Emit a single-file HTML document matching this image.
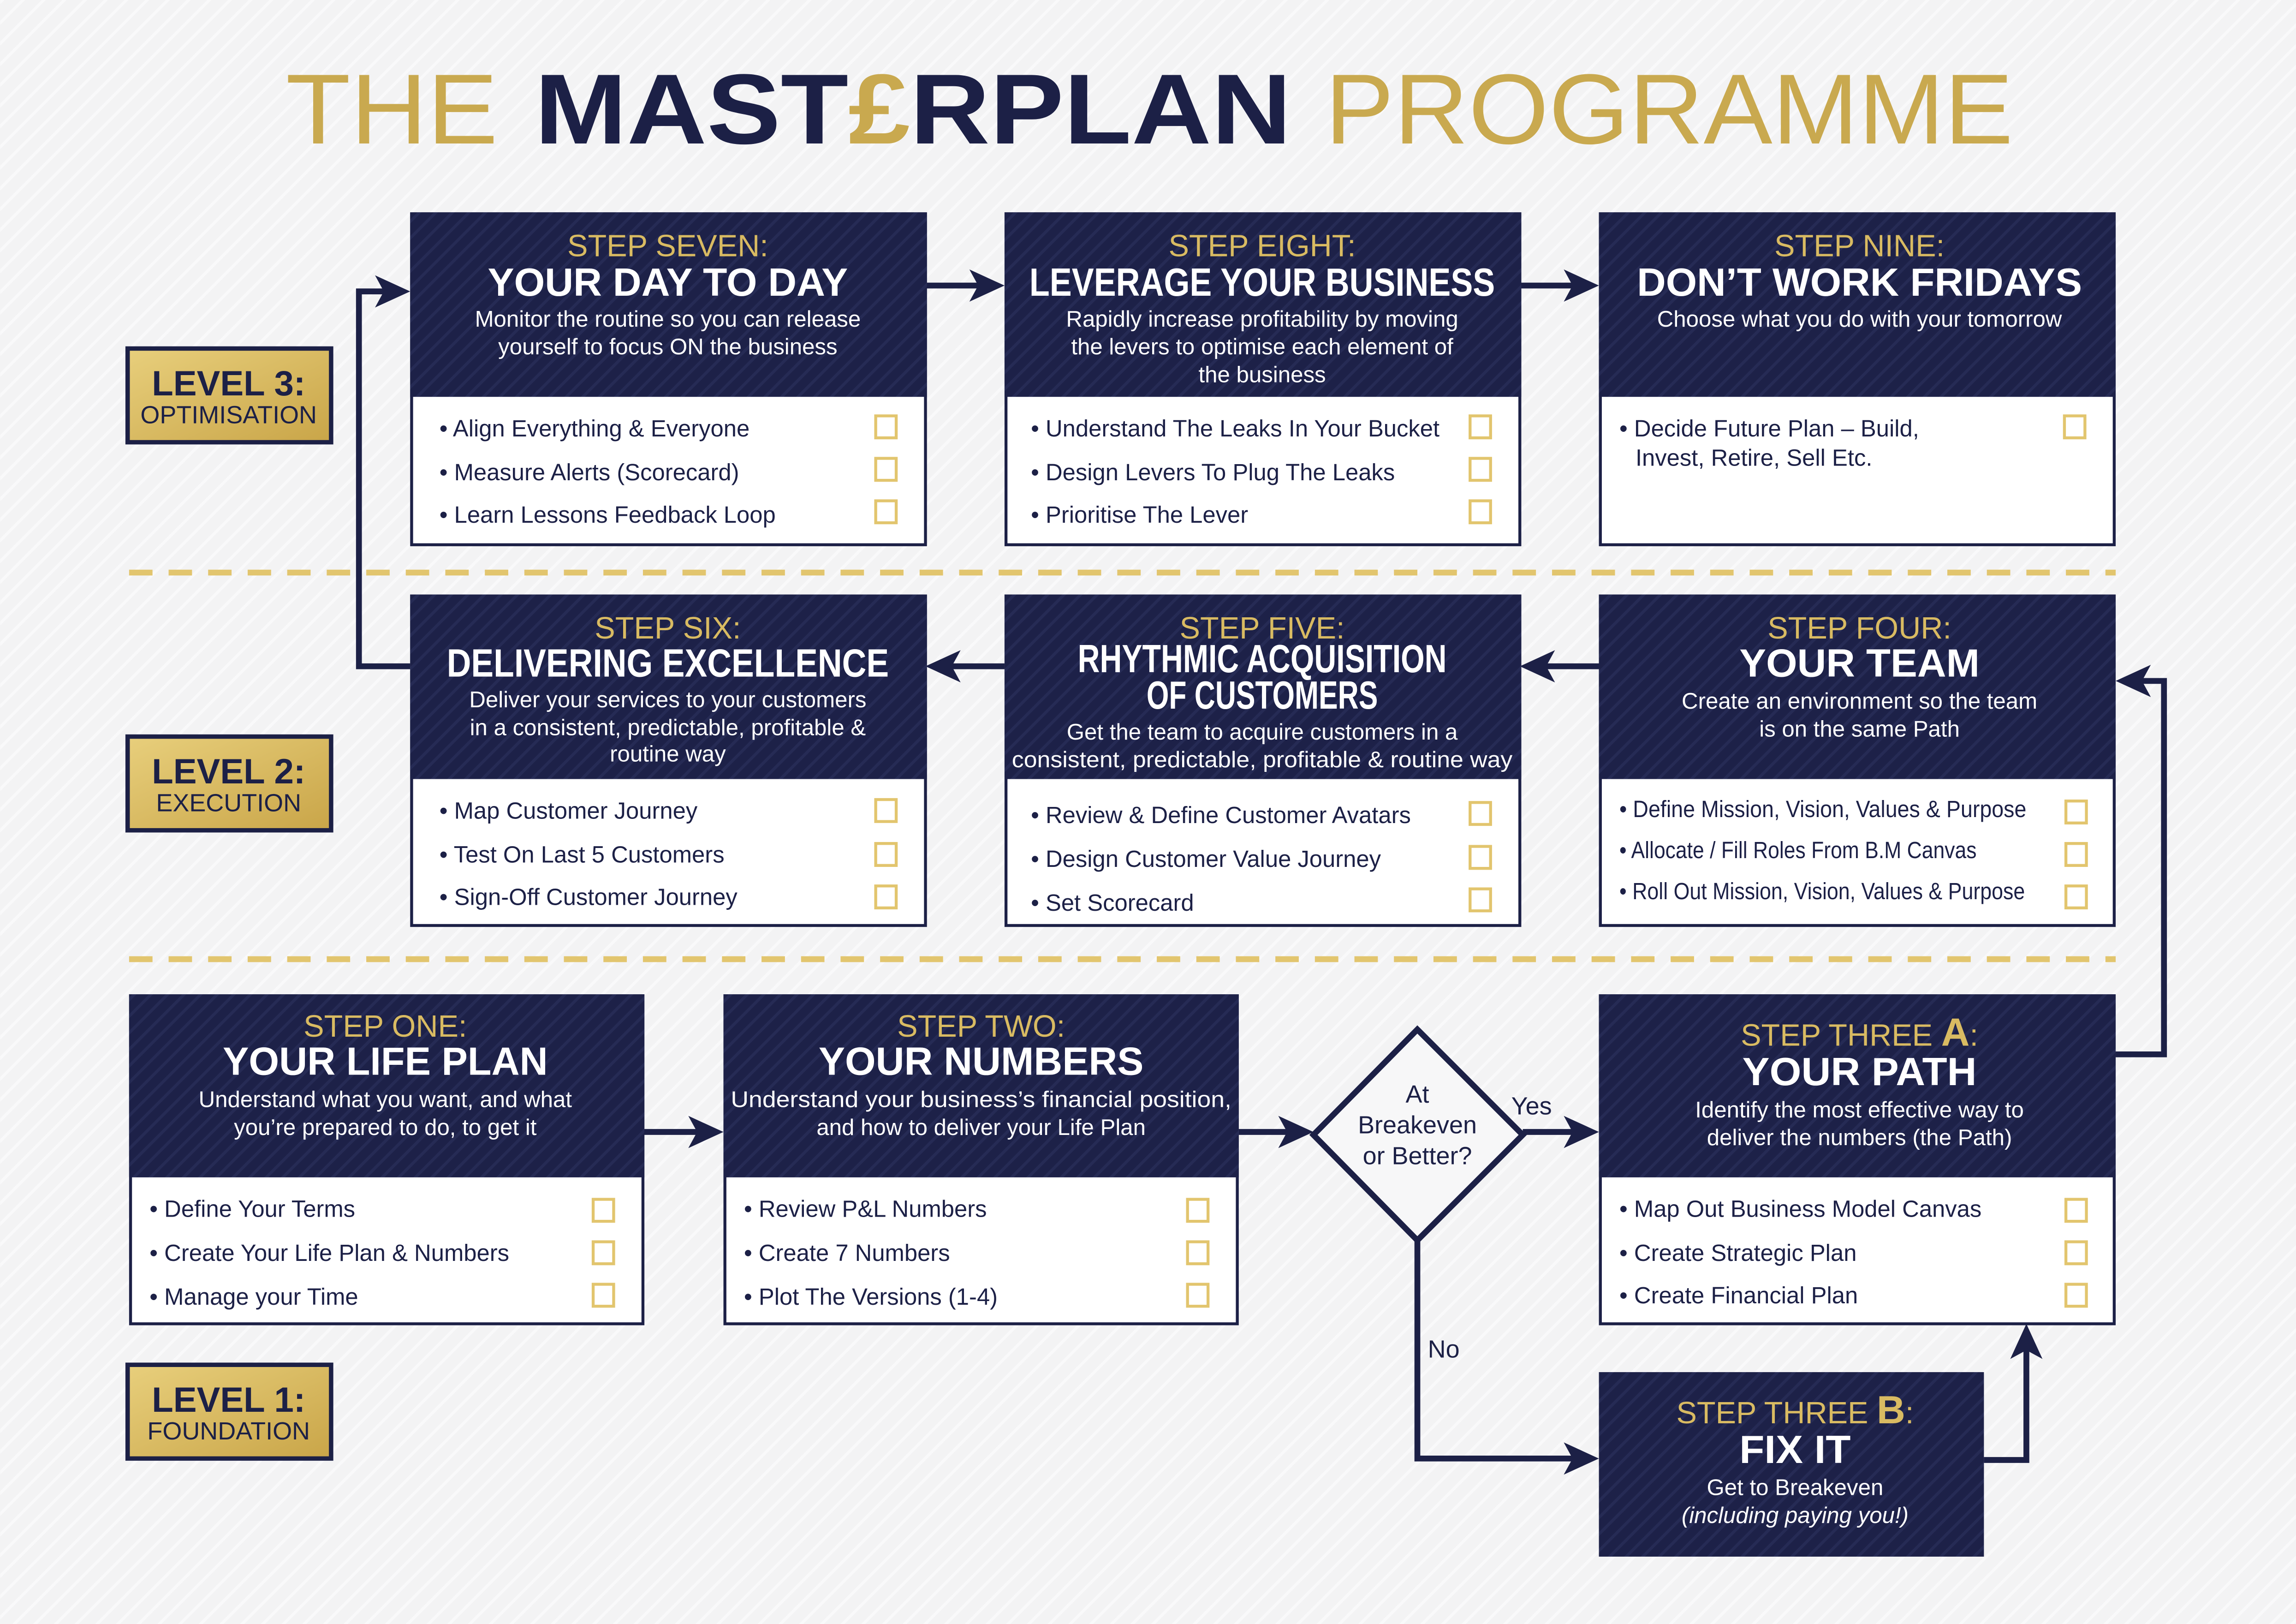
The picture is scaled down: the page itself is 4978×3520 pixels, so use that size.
<!DOCTYPE html>
<html><head><meta charset="utf-8"><style>
html,body{margin:0;padding:0;background:#f4f4f5;}
svg{display:block;}
text{font-family:"Liberation Sans",sans-serif;}
.st{fill:#d9bb62;font-size:21px;text-anchor:middle;}
.tt{fill:#fff;font-size:27px;font-weight:bold;text-anchor:middle;}
.ds{fill:#fff;font-size:15.5px;text-anchor:middle;}
.it{fill:#1c2046;font-size:16px;}
.cb{fill:none;stroke:#e2c56e;stroke-width:2;}
.ln{fill:none;stroke:#1c2046;stroke-width:4;}
.ar{fill:#1c2046;}
</style></head><body>
<svg width="4978" height="3520" viewBox="0 0 1568 1109" xmlns="http://www.w3.org/2000/svg">
<defs>
<pattern id="str" width="8" height="8" patternUnits="userSpaceOnUse" patternTransform="rotate(45)">
<rect width="8" height="8" fill="#1d2148"/><rect width="2" height="8" fill="#262b55"/>
</pattern>
<pattern id="bgs" width="10" height="10" patternUnits="userSpaceOnUse" patternTransform="rotate(45)">
<rect width="10" height="10" fill="#f3f3f4"/><rect width="2" height="10" fill="#f9f9fa"/>
</pattern>
<linearGradient id="gold" x1="0" y1="0" x2="1" y2="1"><stop offset="0" stop-color="#e8cf7c"/><stop offset="1" stop-color="#c9a548"/></linearGradient>
</defs>
<rect width="1568" height="1109" fill="url(#bgs)"/>

<!-- Title -->
<text x="195" y="98" font-size="68" fill="#c9a94f" textLength="145" lengthAdjust="spacingAndGlyphs">THE</text>
<text x="365" y="98" font-size="68" font-weight="bold" fill="#1c2046" textLength="517" lengthAdjust="spacingAndGlyphs">MAST<tspan fill="#c9a94f">£</tspan>RPLAN</text>
<text x="905" y="98" font-size="68" fill="#c9a94f" textLength="470" lengthAdjust="spacingAndGlyphs">PROGRAMME</text>

<!-- dashed lines -->
<line x1="88" y1="391" x2="1445" y2="391" stroke="#e2c56e" stroke-width="4" stroke-dasharray="16,11"/>
<line x1="88" y1="655" x2="1445" y2="655" stroke="#e2c56e" stroke-width="4" stroke-dasharray="16,11"/>

<!-- Level labels -->
<g>
<rect x="87" y="238" width="139" height="64" fill="url(#gold)" stroke="#1c2046" stroke-width="3"/>
<text x="156" y="270" font-size="24" font-weight="bold" fill="#1c2046" text-anchor="middle">LEVEL 3:</text>
<text x="156" y="289" font-size="17" fill="#1c2046" text-anchor="middle">OPTIMISATION</text>
<rect x="87" y="503" width="139" height="64" fill="url(#gold)" stroke="#1c2046" stroke-width="3"/>
<text x="156" y="535" font-size="24" font-weight="bold" fill="#1c2046" text-anchor="middle">LEVEL 2:</text>
<text x="156" y="554" font-size="17" fill="#1c2046" text-anchor="middle">EXECUTION</text>
<rect x="87" y="932" width="139" height="64" fill="url(#gold)" stroke="#1c2046" stroke-width="3"/>
<text x="156" y="964" font-size="24" font-weight="bold" fill="#1c2046" text-anchor="middle">LEVEL 1:</text>
<text x="156" y="983" font-size="17" fill="#1c2046" text-anchor="middle">FOUNDATION</text>
</g>

<!-- Connectors -->
<line class="ln" x1="632" y1="195" x2="672" y2="195"/><polygon class="ar" points="686,195 662,184 668,195 662,206"/>
<line class="ln" x1="1038" y1="195" x2="1078" y2="195"/><polygon class="ar" points="1092,195 1068,184 1074,195 1068,206"/>
<line class="ln" x1="686" y1="455" x2="646" y2="455"/><polygon class="ar" points="632,455 656,444 650,455 656,466"/>
<line class="ln" x1="1092" y1="455" x2="1052" y2="455"/><polygon class="ar" points="1038,455 1062,444 1056,455 1062,466"/>
<polyline class="ln" points="280,455 245,455 245,199 266,199"/><polygon class="ar" points="280,199 256,188 262,199 256,210"/>
<polyline class="ln" points="1445,720 1478,720 1478,465 1459,465"/><polygon class="ar" points="1445,465 1469,454 1463,465 1469,476"/>
<line class="ln" x1="439" y1="773" x2="480" y2="773"/><polygon class="ar" points="494,773 470,762 476,773 470,784"/>
<line class="ln" x1="846" y1="773" x2="884" y2="773"/><polygon class="ar" points="897,773 873,762 879,773 873,784"/>
<line class="ln" x1="1040" y1="773" x2="1078" y2="773"/><polygon class="ar" points="1092,773 1068,762 1074,773 1068,784"/>
<polyline class="ln" points="968,847 968,996 1078,996"/><polygon class="ar" points="1092,996 1068,985 1074,996 1068,1007"/>
<polyline class="ln" points="1355,997 1384,997 1384,918"/><polygon class="ar" points="1384,904 1373,928 1384,922 1395,928"/>

<!-- Diamond -->
<polygon points="968,703 1040,775 968,847 897,775" fill="#f7f7f8" stroke="#1c2046" stroke-width="4"/>
<text x="968" y="753" font-size="17" fill="#1c2046" text-anchor="middle">At</text>
<text x="968" y="774" font-size="17" fill="#1c2046" text-anchor="middle">Breakeven</text>
<text x="968" y="795" font-size="17" fill="#1c2046" text-anchor="middle">or Better?</text>
<text x="1046" y="761" font-size="17" fill="#1c2046" text-anchor="middle">Yes</text>
<text x="986" y="927" font-size="17" fill="#1c2046" text-anchor="middle">No</text>

<!-- STEP SEVEN -->
<rect x="281" y="146" width="351" height="226" fill="#fff" stroke="#1c2046" stroke-width="2"/>
<rect x="280" y="145" width="353" height="126" fill="url(#str)"/>
<text class="st" x="456" y="175">STEP SEVEN:</text>
<text class="tt" x="456" y="202" textLength="246" lengthAdjust="spacingAndGlyphs">YOUR DAY TO DAY</text>
<text class="ds" x="456" y="223">Monitor the routine so you can release</text>
<text class="ds" x="456" y="242">yourself to focus ON the business</text>
<text class="it" x="300" y="298">• Align Everything &amp; Everyone</text>
<text class="it" x="300" y="328">• Measure Alerts (Scorecard)</text>
<text class="it" x="300" y="357">• Learn Lessons Feedback Loop</text>
<rect class="cb" x="598" y="284" width="14" height="15"/><rect class="cb" x="598" y="313" width="14" height="15"/><rect class="cb" x="598" y="342" width="14" height="15"/>

<!-- STEP EIGHT -->
<rect x="687" y="146" width="351" height="226" fill="#fff" stroke="#1c2046" stroke-width="2"/>
<rect x="686" y="145" width="353" height="126" fill="url(#str)"/>
<text class="st" x="862" y="175">STEP EIGHT:</text>
<text class="tt" x="862" y="202" textLength="318" lengthAdjust="spacingAndGlyphs">LEVERAGE YOUR BUSINESS</text>
<text class="ds" x="862" y="223">Rapidly increase profitability by moving</text>
<text class="ds" x="862" y="242">the levers to optimise each element of</text>
<text class="ds" x="862" y="261">the business</text>
<text class="it" x="704" y="298">• Understand The Leaks In Your Bucket</text>
<text class="it" x="704" y="328">• Design Levers To Plug The Leaks</text>
<text class="it" x="704" y="357">• Prioritise The Lever</text>
<rect class="cb" x="1004" y="284" width="14" height="15"/><rect class="cb" x="1004" y="313" width="14" height="15"/><rect class="cb" x="1004" y="342" width="14" height="15"/>

<!-- STEP NINE -->
<rect x="1093" y="146" width="351" height="226" fill="#fff" stroke="#1c2046" stroke-width="2"/>
<rect x="1092" y="145" width="353" height="126" fill="url(#str)"/>
<text class="st" x="1270" y="175">STEP NINE:</text>
<text class="tt" x="1270" y="202" textLength="304" lengthAdjust="spacingAndGlyphs">DON’T WORK FRIDAYS</text>
<text class="ds" x="1270" y="223">Choose what you do with your tomorrow</text>
<text class="it" x="1106" y="298">• Decide Future Plan – Build,</text>
<text class="it" x="1117" y="318">Invest, Retire, Sell Etc.</text>
<rect class="cb" x="1410" y="284" width="14" height="15"/>

<!-- STEP SIX -->
<rect x="281" y="407" width="351" height="225" fill="#fff" stroke="#1c2046" stroke-width="2"/>
<rect x="280" y="406" width="353" height="126" fill="url(#str)"/>
<text class="st" x="456" y="436">STEP SIX:</text>
<text class="tt" x="456" y="462" textLength="302" lengthAdjust="spacingAndGlyphs">DELIVERING EXCELLENCE</text>
<text class="ds" x="456" y="483">Deliver your services to your customers</text>
<text class="ds" x="456" y="502">in a consistent, predictable, profitable &amp;</text>
<text class="ds" x="456" y="520">routine way</text>
<text class="it" x="300" y="559">• Map Customer Journey</text>
<text class="it" x="300" y="589">• Test On Last 5 Customers</text>
<text class="it" x="300" y="618">• Sign-Off Customer Journey</text>
<rect class="cb" x="598" y="546" width="14" height="15"/><rect class="cb" x="598" y="576" width="14" height="15"/><rect class="cb" x="598" y="605" width="14" height="15"/>

<!-- STEP FIVE -->
<rect x="687" y="407" width="351" height="225" fill="#fff" stroke="#1c2046" stroke-width="2"/>
<rect x="686" y="406" width="353" height="126" fill="url(#str)"/>
<text class="st" x="862" y="436">STEP FIVE:</text>
<text class="tt" x="862" y="459" font-size="21" textLength="252" lengthAdjust="spacingAndGlyphs">RHYTHMIC ACQUISITION</text>
<text class="tt" x="862" y="484" font-size="21" textLength="158" lengthAdjust="spacingAndGlyphs">OF CUSTOMERS</text>
<text class="ds" x="862" y="505">Get the team to acquire customers in a</text>
<text class="ds" x="862" y="524" textLength="342" lengthAdjust="spacingAndGlyphs">consistent, predictable, profitable &amp; routine way</text>
<text class="it" x="704" y="562">• Review &amp; Define Customer Avatars</text>
<text class="it" x="704" y="592">• Design Customer Value Journey</text>
<text class="it" x="704" y="622">• Set Scorecard</text>
<rect class="cb" x="1004" y="548" width="14" height="15"/><rect class="cb" x="1004" y="578" width="14" height="15"/><rect class="cb" x="1004" y="607" width="14" height="15"/>

<!-- STEP FOUR -->
<rect x="1093" y="407" width="351" height="225" fill="#fff" stroke="#1c2046" stroke-width="2"/>
<rect x="1092" y="406" width="353" height="126" fill="url(#str)"/>
<text class="st" x="1270" y="436">STEP FOUR:</text>
<text class="tt" x="1270" y="462" textLength="164" lengthAdjust="spacingAndGlyphs">YOUR TEAM</text>
<text class="ds" x="1270" y="484">Create an environment so the team</text>
<text class="ds" x="1270" y="503">is on the same Path</text>
<text class="it" x="1106" y="558" font-size="14" textLength="278" lengthAdjust="spacingAndGlyphs">• Define Mission, Vision, Values &amp; Purpose</text>
<text class="it" x="1106" y="586" font-size="14" textLength="244" lengthAdjust="spacingAndGlyphs">• Allocate / Fill Roles From B.M Canvas</text>
<text class="it" x="1106" y="614" font-size="14" textLength="277" lengthAdjust="spacingAndGlyphs">• Roll Out Mission, Vision, Values &amp; Purpose</text>
<rect class="cb" x="1411" y="547" width="14" height="15"/><rect class="cb" x="1411" y="576" width="14" height="15"/><rect class="cb" x="1411" y="605" width="14" height="15"/>

<!-- STEP ONE -->
<rect x="89" y="680" width="350" height="224" fill="#fff" stroke="#1c2046" stroke-width="2"/>
<rect x="88" y="679" width="352" height="125" fill="url(#str)"/>
<text class="st" x="263" y="708">STEP ONE:</text>
<text class="tt" x="263" y="734" textLength="222" lengthAdjust="spacingAndGlyphs">YOUR LIFE PLAN</text>
<text class="ds" x="263" y="756">Understand what you want, and what</text>
<text class="ds" x="263" y="775">you’re prepared to do, to get it</text>
<text class="it" x="102" y="831">• Define Your Terms</text>
<text class="it" x="102" y="861">• Create Your Life Plan &amp; Numbers</text>
<text class="it" x="102" y="891">• Manage your Time</text>
<rect class="cb" x="405" y="819" width="14" height="15"/><rect class="cb" x="405" y="848" width="14" height="15"/><rect class="cb" x="405" y="877" width="14" height="15"/>

<!-- STEP TWO -->
<rect x="495" y="680" width="350" height="224" fill="#fff" stroke="#1c2046" stroke-width="2"/>
<rect x="494" y="679" width="352" height="125" fill="url(#str)"/>
<text class="st" x="670" y="708">STEP TWO:</text>
<text class="tt" x="670" y="734" textLength="222" lengthAdjust="spacingAndGlyphs">YOUR NUMBERS</text>
<text class="ds" x="670" y="756" textLength="342" lengthAdjust="spacingAndGlyphs">Understand your business’s financial position,</text>
<text class="ds" x="670" y="775">and how to deliver your Life Plan</text>
<text class="it" x="508" y="831">• Review P&amp;L Numbers</text>
<text class="it" x="508" y="861">• Create 7 Numbers</text>
<text class="it" x="508" y="891">• Plot The Versions (1-4)</text>
<rect class="cb" x="811" y="819" width="14" height="15"/><rect class="cb" x="811" y="848" width="14" height="15"/><rect class="cb" x="811" y="877" width="14" height="15"/>

<!-- STEP THREE A -->
<rect x="1093" y="680" width="351" height="224" fill="#fff" stroke="#1c2046" stroke-width="2"/>
<rect x="1092" y="679" width="353" height="125" fill="url(#str)"/>
<text class="st" x="1270" y="714">STEP THREE <tspan font-weight="bold" font-size="27">A</tspan>:</text>
<text class="tt" x="1270" y="741" textLength="160" lengthAdjust="spacingAndGlyphs">YOUR PATH</text>
<text class="ds" x="1270" y="763">Identify the most effective way to</text>
<text class="ds" x="1270" y="782">deliver the numbers (the Path)</text>
<text class="it" x="1106" y="831">• Map Out Business Model Canvas</text>
<text class="it" x="1106" y="861">• Create Strategic Plan</text>
<text class="it" x="1106" y="890">• Create Financial Plan</text>
<rect class="cb" x="1411" y="819" width="14" height="15"/><rect class="cb" x="1411" y="848" width="14" height="15"/><rect class="cb" x="1411" y="877" width="14" height="15"/>

<!-- STEP THREE B -->
<rect x="1092" y="937" width="263" height="126" fill="url(#str)"/>
<text class="st" x="1226" y="972">STEP THREE <tspan font-weight="bold" font-size="27">B</tspan>:</text>
<text class="tt" x="1226" y="999" textLength="76" lengthAdjust="spacingAndGlyphs">FIX IT</text>
<text class="ds" x="1226" y="1021">Get to Breakeven</text>
<text class="ds" x="1226" y="1040" font-style="italic">(including paying you!)</text>
</svg>
</body></html>
